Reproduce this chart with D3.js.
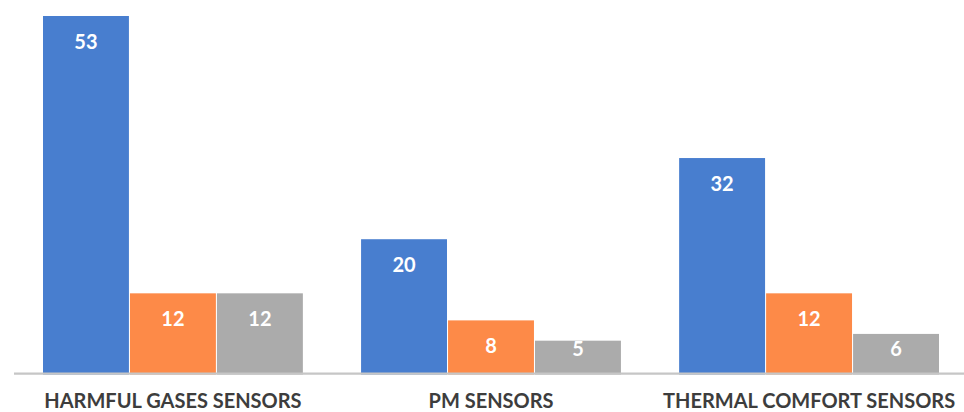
<!DOCTYPE html>
<html>
<head>
<meta charset="utf-8">
<script src="https://cdn.jsdelivr.net/npm/d3@7"></script>
<style>
  html, body { margin: 0; padding: 0; background: #ffffff; }
  svg { display: block; }
</style>
</head>
<body>
<svg id="chart" width="964" height="412"></svg>
<script>
// Sensor counts per category, three series per group
const categories = ["HARMFUL GASES SENSORS", "PM SENSORS", "THERMAL COMFORT SENSORS"];
const seriesNames = ["Series 1", "Series 2", "Series 3"];
const series1 = [53, 20, 32];
const series2 = [12, 8, 12];
const series3 = [12, 5, 6];
const seriesColors = ["#487ecf", "#fd8a48", "#ababab"];

const seriesValues = [series1, series2, series3];
const rows = categories.map((c, i) => ({
  category: c,
  values: seriesNames.map((s, j) => ({ series: s, value: seriesValues[j][i] }))
}));

const svg = d3.select("#chart");
const W = 964;
const axisY = 373.6;

const x0 = d3.scaleBand()
  .domain(categories)
  .range([43, 939])
  .paddingInner(0.183)
  .paddingOuter(0);

const x1 = d3.scaleBand()
  .domain(seriesNames)
  .range([0, x0.bandwidth()])
  .paddingInner(0.012);

const y = d3.scaleLinear()
  .domain([0, 53])
  .range([374.5, 16]);

const color = d3.scaleOrdinal().domain(seriesNames).range(seriesColors);

// Bars
const groups = svg.append("g").selectAll("g")
  .data(rows)
  .join("g")
  .attr("transform", d => `translate(${x0(d.category)},0)`);

groups.selectAll("rect")
  .data(d => d.values)
  .join("rect")
  .attr("x", d => x1(d.series))
  .attr("y", d => y(d.value))
  .attr("width", x1.bandwidth())
  .attr("height", d => y(0) - y(d.value))
  .attr("fill", d => color(d.series));

// Value labels near the top of each bar, kept inside short bars
groups.selectAll("text.value")
  .data(d => d.values)
  .join("text")
  .attr("class", "value")
  .attr("x", d => x1(d.series) + x1.bandwidth() / 2)
  .attr("y", d => Math.min(y(d.value) + 32.8, 356))
  .attr("text-anchor", "middle")
  .attr("fill", "#ffffff")
  .style("font-family", "Lato, 'Open Sans', sans-serif")
  .style("font-weight", "700")
  .style("font-size", "20px")
  .text(d => d.value);

// Category axis
const xAxis = d3.axisBottom(x0).tickSize(0).tickPadding(20.5);
const axisG = svg.append("g")
  .attr("transform", `translate(0,${axisY})`)
  .call(xAxis);

axisG.select(".domain").remove();
axisG.append("line")
  .attr("x1", 14).attr("x2", W)
  .attr("y1", 0).attr("y2", 0)
  .attr("stroke", "#c6c6c6")
  .attr("stroke-width", 2.4);

axisG.selectAll(".tick text")
  .attr("fill", "#3d3d3d")
  .attr("dy", "0.71em")
  .style("font-family", "Lato, 'Open Sans', sans-serif")
  .style("font-weight", "700")
  .style("font-size", "20px");
</script>
</body>
</html>
